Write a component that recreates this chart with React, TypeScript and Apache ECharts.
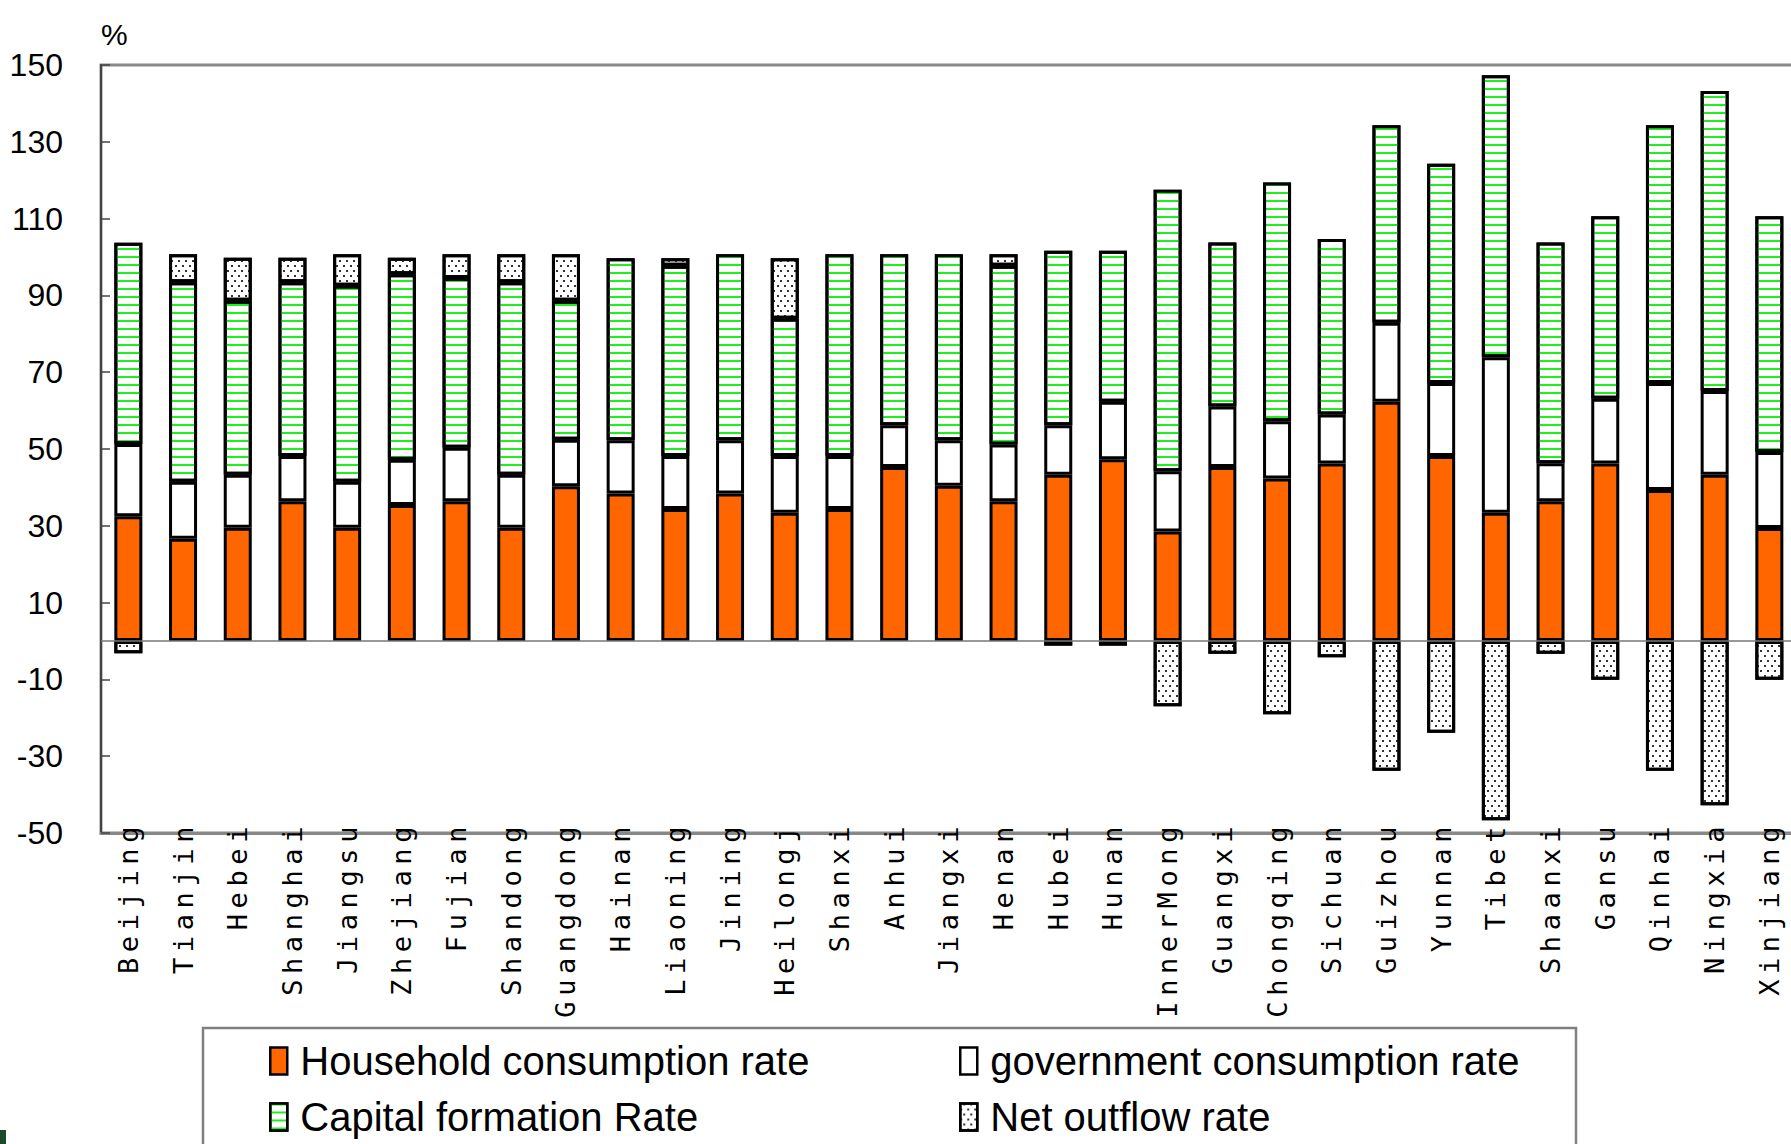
import React, { useEffect, useRef } from "react";
import * as echarts from "echarts";

const categories = [
  "Beijing", "Tianjin", "Hebei", "Shanghai", "Jiangsu", "Zhejiang", "Fujian", "Shandong",
  "Guangdong", "Hainan", "Liaoning", "Jining", "Heilongj", "Shanxi", "Anhui", "Jiangxi",
  "Henan", "Hubei", "Hunan", "InnerMong", "Guangxi", "Chongqing", "Sichuan", "Guizhou",
  "Yunnan", "Tibet", "Shaanxi", "Gansu", "Qinhai", "Ningxia", "Xinjiang",
];

const household = [
  32.5, 26.6, 29.5, 36.4, 29.5, 35.4, 36.4, 29.5, 40.3, 38.4, 34.4, 38.4, 33.4, 34.4, 45.3, 40.4,
  36.4, 43.3, 47.3, 28.5, 45.3, 42.3, 46.2, 62.3, 48.2, 33.4, 36.4, 46.2, 39.3, 43.3, 29.4,
];

const government = [
  18.8, 14.9, 13.8, 11.8, 12.0, 11.8, 13.9, 13.8, 12.1, 13.9, 13.8, 13.9, 14.8, 13.8, 10.9, 11.9,
  14.8, 12.9, 15.0, 15.7, 15.8, 14.9, 12.8, 20.6, 19.0, 40.5, 9.9, 16.9, 27.9, 21.8, 19.8,
];

const capital = [
  52.4, 51.9, 45.3, 45.2, 51.0, 48.3, 44.2, 50.1, 36.2, 47.4, 49.5, 48.4, 35.7, 52.5, 44.5, 48.4,
  46.5, 45.4, 39.3, 73.3, 42.7, 62.2, 45.7, 51.4, 57.1, 73.4, 57.5, 47.5, 67.1, 78.1, 61.4,
];

const netOutflow = [
  -3.2, 7.3, 11.2, 6.4, 8.2, 4.3, 6.2, 7.3, 12.1, 0, 2.0, 0, 15.8, 0, 0, 0,
  3.0, -1.2, -1.2, -17.0, -3.3, -19.1, -4.2, -33.8, -23.9, -46.7, -3.3, -10.1, -33.8, -42.8, -10.1,
];

const yTicks = { min: -50, max: 150, interval: 20 };

const seriesNames = [
  "Household consumption rate",
  "government consumption rate",
  "Capital formation Rate",
  "Net outflow rate",
];

const SANS = '"Liberation Sans", Arial, sans-serif';
const MONO = '"DejaVu Sans Mono", "Liberation Mono", monospace';

export default function App() {
  const ref = useRef<HTMLDivElement>(null);

  useEffect(() => {
    if (!ref.current) return;
    const chart = echarts.init(ref.current, null, { renderer: "svg" });
    const border = { borderColor: "#000", borderWidth: 3 };
    const stripes = {
      symbol: "rect",
      symbolSize: 1,
      dashArrayX: [10, 0],
      dashArrayY: [2, 5.6],
      rotation: 0,
      color: "#1fef1f",
    };
    const dots = {
      symbol: "rect",
      symbolSize: 1,
      dashArrayX: [[1.5, 4.5], [0, 3, 1.5, 1.5]],
      dashArrayY: [1.5, 3],
      rotation: 0,
      color: "#333",
    };
    const clean = (arr: number[]) => arr.map((v) => (v === 0 ? "-" : v));
    const legendCommon = {
      orient: "vertical",
      top: 1037,
      padding: 0,
      itemGap: 8,
      itemWidth: 17,
      itemHeight: 27,
      icon: "rect",
      itemStyle: { borderColor: "#000", borderWidth: 2.5 },
      textStyle: { fontFamily: SANS, fontSize: 40, lineHeight: 48, color: "#000", padding: [0, 0, 0, 8] },
    };

    chart.setOption({
      animation: false,
      backgroundColor: "#fff",
      grid: {
        left: 101,
        top: 65,
        right: -5.7,
        bottom: 311,
        outerBoundsMode: "none",
        containLabel: false,
        show: true,
        borderColor: "#888",
        borderWidth: 3,
        backgroundColor: "transparent",
      },
      legend: [
        { ...legendCommon, data: [seriesNames[0], seriesNames[2]], left: 269 },
        { ...legendCommon, data: [seriesNames[1], seriesNames[3]], left: 959 },
      ],
      xAxis: {
        type: "category",
        data: categories,
        axisLine: { onZero: false, lineStyle: { color: "#888", width: 3 } },
        axisTick: { show: false },
        axisLabel: {
          interval: 0,
          rotate: 90,
          margin: -12,
          fontFamily: MONO,
          fontSize: 27,
          color: "#000",
        },
      },
      yAxis: {
        type: "value",
        min: yTicks.min,
        max: yTicks.max,
        interval: yTicks.interval,
        name: "%",
        nameLocation: "end",
        nameGap: 16,
        nameTextStyle: { fontFamily: SANS, fontSize: 30, color: "#000", align: "left" },
        axisLine: { show: true, lineStyle: { color: "#444", width: 2 } },
        axisTick: { show: true, inside: true, length: 9, lineStyle: { color: "#444", width: 1.5 } },
        axisLabel: { fontFamily: SANS, fontSize: 32, color: "#000", margin: 38 },
        splitLine: { show: false },
      },
      series: [
        {
          name: seriesNames[0],
          type: "bar",
          stack: "total",
          barWidth: 28,
          data: household,
          itemStyle: { color: "#ff6600", ...border },
          markLine: {
            silent: true,
            symbol: ["none", "none"],
            label: { show: false },
            lineStyle: { color: "#777", width: 1.5, type: "solid" },
            data: [{ yAxis: 0 }],
          },
        },
        {
          name: seriesNames[1],
          type: "bar",
          stack: "total",
          barWidth: 28,
          data: government,
          itemStyle: { color: "#ffffff", ...border },
        },
        {
          name: seriesNames[2],
          type: "bar",
          stack: "total",
          barWidth: 28,
          data: capital,
          itemStyle: { color: "#ffffff", decal: stripes, ...border },
        },
        {
          name: seriesNames[3],
          type: "bar",
          stack: "total",
          barWidth: 28,
          data: clean(netOutflow),
          itemStyle: { color: "#ffffff", decal: dots, ...border },
        },
      ],
      graphic: [
        {
          type: "rect",
          silent: true,
          shape: { x: 203, y: 1028, width: 1373, height: 160 },
          style: { fill: "none", stroke: "#808080", lineWidth: 2.5 },
        },
        {
          type: "rect",
          silent: true,
          shape: { x: 0, y: 1130, width: 6, height: 14 },
          style: { fill: "#1d4a28" },
        },
      ],
    });
    return () => chart.dispose();
  }, []);

  return (
    <>
      <style>{`
        #cz text[style*="Mono"], #cz text[font-family*="Mono"] { letter-spacing: 5.6px; }
      `}</style>
      <div
        id="cz"
        ref={ref}
        style={{ position: "absolute", left: 0, top: 0, width: 1791, height: 1144, background: "#fff" }}
      />
    </>
  );
}
